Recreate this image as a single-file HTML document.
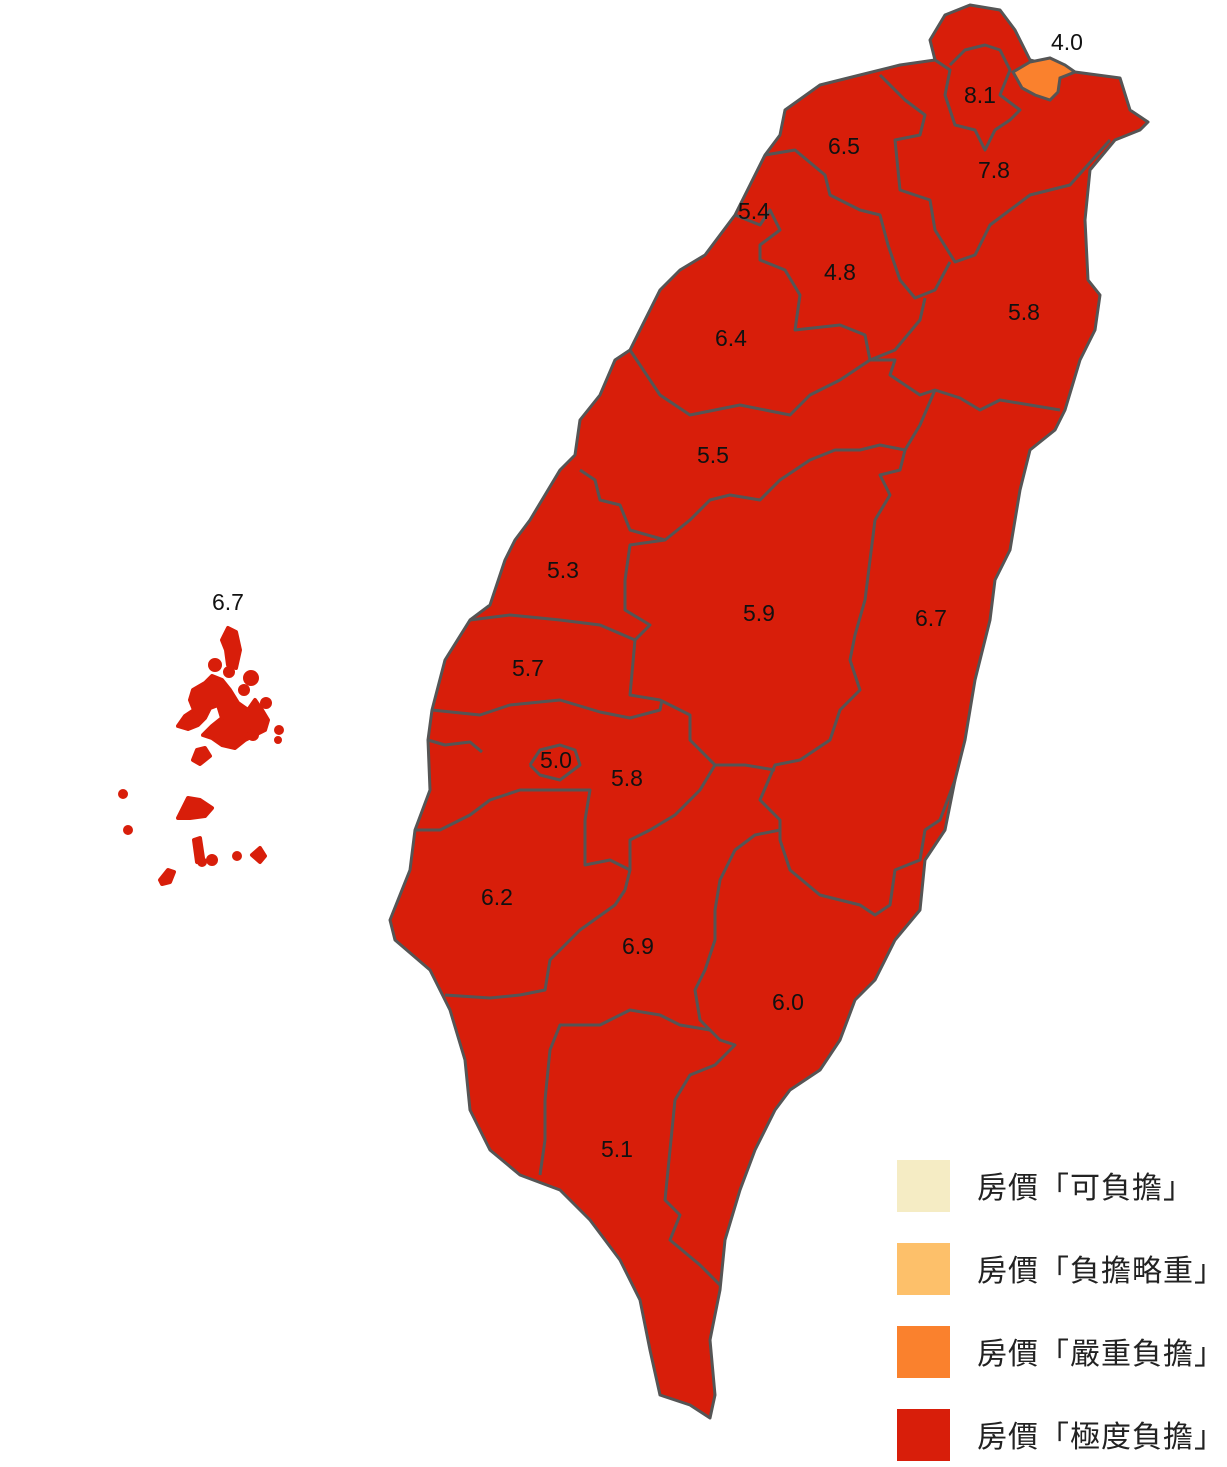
<!DOCTYPE html>
<html><head><meta charset="utf-8"><style>
body{margin:0;background:#fff;width:1227px;height:1462px;overflow:hidden}
svg text{font-family:"Liberation Sans","Noto Sans CJK TC",sans-serif}
</style></head><body>
<svg width="1227" height="1462" viewBox="0 0 1227 1462">
<g>
<polygon fill="#d81e0a" stroke="#555" stroke-width="3" stroke-linejoin="round" points="930,40 945,15 970,5 1000,10 1015,30 1030,60 1075,72 1120,78 1130,110 1148,122 1140,130 1115,140 1090,170 1085,220 1088,280 1100,295 1095,330 1080,360 1065,410 1055,430 1030,450 1020,490 1010,550 995,580 990,620 975,680 965,740 955,780 945,830 925,860 920,910 895,940 875,980 855,1000 840,1040 820,1070 790,1090 775,1110 755,1150 740,1190 725,1240 720,1290 710,1340 715,1395 710,1418 690,1405 660,1395 650,1350 640,1300 620,1260 590,1220 560,1190 520,1175 490,1150 470,1110 465,1060 450,1010 430,970 395,940 390,920 410,870 415,830 430,790 428,740 432,710 445,660 470,620 490,605 505,560 515,540 530,520 545,495 560,470 575,455 580,420 600,395 615,360 630,350 660,290 680,270 705,255 720,235 735,215 750,185 765,155 780,135 785,110 820,85 860,75 900,65 935,60"/>
<g fill="none" stroke="#555" stroke-width="3" stroke-linejoin="round">
<polyline points="935,60 950,70 945,95 955,125 975,130 985,150 995,130 1010,120 1020,110 1000,95 1010,70 1000,50 985,45 965,50 950,65"/>
<polyline points="880,75 905,100 925,115 920,135 895,140 900,190 930,200 935,230 955,262 975,255 990,225 1030,195 1070,185 1110,140"/>
<polyline points="765,155 795,150 825,175 830,195 860,210 880,215 888,245 900,280 915,298 935,290 950,262"/>
<polyline points="735,215 760,225 770,210 780,230 760,245 760,260 785,270 800,295 795,330 840,325 865,335 870,360"/>
<polyline points="630,350 660,395 690,415 740,405 765,410 790,415 810,395 840,380 870,360 895,360 890,375 920,395 935,390 960,398 980,410 1000,400 1030,405 1060,410"/>
<polyline points="870,360 895,350 920,320 925,298"/>
<polyline points="935,390 920,425 905,450 880,445 860,450 835,450 810,460 780,480 760,500 730,495 710,500 690,520 665,540 630,530 620,505 600,500 595,480 580,470"/>
<polyline points="905,450 900,470 880,475 890,495 875,520 870,560 865,600 855,635 850,660 860,690 840,710 830,740 800,760 775,765 760,800 780,820 780,840 790,870 820,895 860,905 875,915 890,905 895,870 920,860 925,830 940,820 955,780"/>
<polyline points="665,540 630,545 625,580 625,610 650,625 635,640 630,695 660,700 690,715 690,740 715,765 745,765 775,770"/>
<polyline points="470,620 510,615 560,620 600,625 635,640"/>
<polyline points="432,710 480,715 510,705 560,700 600,712 630,718 660,710 662,700"/>
<polyline points="428,740 445,745 470,742 482,752"/>
<polyline points="530,765 540,750 560,745 575,750 580,765 560,780 540,775 530,765"/>
<polyline points="415,830 440,830 470,815 490,800 520,790 550,790 575,790 590,790 585,820 585,865 610,860 630,870 625,890"/>
<polyline points="715,765 700,790 675,815 650,830 630,840 630,870"/>
<polyline points="780,830 755,835 735,850 720,880 715,910 715,940 705,970 695,990 700,1020 710,1030 680,1025 660,1015 630,1010 600,1025 560,1025 550,1050 545,1100 545,1140 540,1175"/>
<polyline points="625,890 615,905 580,930 550,960 545,990 520,995 490,998 445,995"/>
<polyline points="710,1030 720,1040 735,1045 715,1065 690,1075 675,1100 670,1150 665,1200 680,1215 670,1240 700,1265 720,1285"/>
</g>
<path d="M1013,72 L1030,62 L1050,58 L1065,65 L1075,72 L1060,78 L1058,92 L1050,100 L1035,95 L1022,88 Z" fill="#fa812d" stroke="#555" stroke-width="3"/>
</g>
<g fill="#d81e0a" stroke="#d81e0a" stroke-width="4" stroke-linejoin="round">
<path d="M228,628 L236,632 L240,650 L236,668 L228,665 L226,650 L222,640 Z"/>
<circle cx="215" cy="665" r="5"/><circle cx="229" cy="672" r="4"/>
<path d="M193,690 L205,683 L212,676 L222,680 L230,690 L238,703 L248,710 L255,700 L262,710 L268,720 L265,730 L255,735 L245,740 L235,748 L222,745 L212,738 L203,735 L212,726 L222,718 L218,705 L210,708 L205,718 L198,725 L188,729 L178,726 L185,716 L194,710 L190,700 Z"/>
<circle cx="251" cy="678" r="6"/><circle cx="244" cy="690" r="4"/><circle cx="266" cy="703" r="4"/>
<circle cx="253" cy="735" r="4"/><circle cx="279" cy="730" r="3"/><circle cx="278" cy="740" r="2"/>
<path d="M197,750 L205,748 L210,756 L200,764 L193,760 Z"/>
<path d="M178,818 L188,798 L200,800 L212,808 L205,816 L190,818 Z"/>
<circle cx="123" cy="794" r="3"/><circle cx="128" cy="830" r="3"/>
<path d="M194,840 L200,838 L203,858 L197,862 Z"/>
<circle cx="202" cy="862" r="3"/><circle cx="212" cy="860" r="4"/><circle cx="237" cy="856" r="3"/>
<path d="M252,855 L260,848 L265,856 L260,862 Z"/>
<path d="M160,880 L168,870 L174,872 L170,882 L162,884 Z"/>
</g>
<g font-size="23" fill="#111" text-anchor="middle">
<text x="1067" y="50">4.0</text><text x="980" y="103">8.1</text><text x="844" y="154">6.5</text>
<text x="994" y="178">7.8</text><text x="754" y="219">5.4</text><text x="840" y="280">4.8</text>
<text x="1024" y="320">5.8</text><text x="731" y="346">6.4</text><text x="713" y="463">5.5</text>
<text x="563" y="578">5.3</text><text x="759" y="621">5.9</text><text x="931" y="626">6.7</text>
<text x="228" y="610">6.7</text><text x="528" y="676">5.7</text><text x="556" y="768">5.0</text>
<text x="627" y="786">5.8</text><text x="497" y="905">6.2</text><text x="638" y="954">6.9</text>
<text x="788" y="1010">6.0</text><text x="617" y="1157">5.1</text>
</g>
<g>
<rect x="897" y="1160" width="53" height="52" fill="#f5ecc4"/>
<rect x="897" y="1243" width="53" height="52" fill="#fdc06a"/>
<rect x="897" y="1326" width="53" height="52" fill="#fa812d"/>
<rect x="897" y="1409" width="53" height="52" fill="#d81e0a"/>
<g font-size="30" fill="#222" letter-spacing="1">
<text x="977" y="1198">房價「可負擔」</text>
<text x="977" y="1281">房價「負擔略重」</text>
<text x="977" y="1364">房價「嚴重負擔」</text>
<text x="977" y="1447">房價「極度負擔」</text>
</g>
</g>
</svg>
</body></html>
